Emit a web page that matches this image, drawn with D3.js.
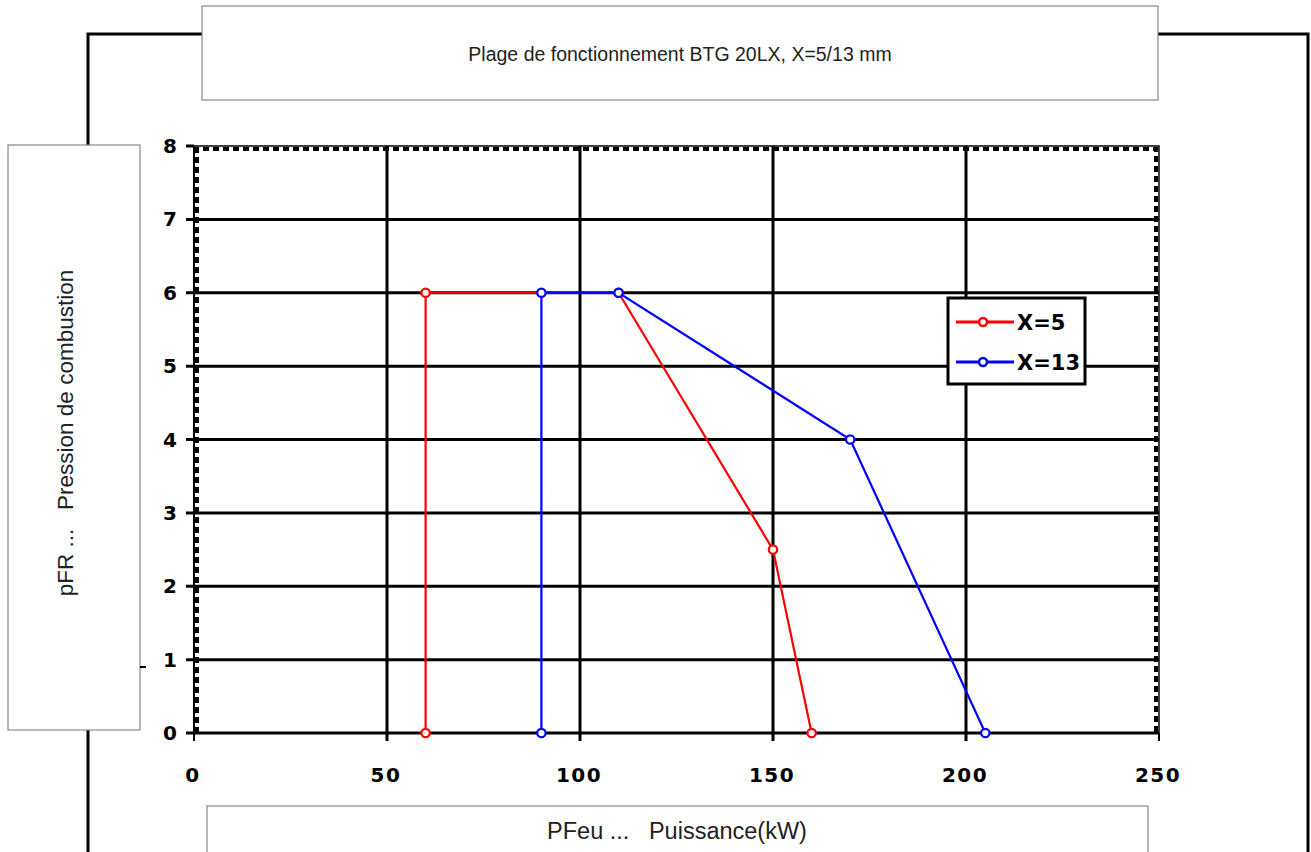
<!DOCTYPE html>
<html><head><meta charset="utf-8">
<script src="https://cdn.jsdelivr.net/npm/d3@7"></script>
<style>body{margin:0;background:#fff;}svg{display:block;}text{white-space:pre;}</style>
</head><body>
<svg id="c" width="1311" height="852"></svg>
<script>
const title = "Plage de fonctionnement BTG 20LX, X=5/13 mm";
const xTitle = "PFeu ...   Puissance(kW)";
const yTitle = "pFR ...   Pression de combustion";
const xTicks = [0, 50, 100, 150, 200, 250];
const yTicks = [0, 1, 2, 3, 4, 5, 6, 7, 8];
const seriesNames = ["X=5", "X=13"];
const seriesColors = ["#ff0000", "#0000ff"];
const x5 = [60, 60, 110, 150, 160];
const y5 = [0, 6, 6, 2.5, 0];
const x13 = [90, 90, 110, 170, 205];
const y13 = [0, 6, 6, 4, 0];

const svg = d3.select("#c");
const L = 194, R = 1159, T = 146, B = 733;
const x = d3.scaleLinear().domain([0, 250]).range([L, R]);
const y = d3.scaleLinear().domain([0, 8]).range([B, T]);
const ff = "Liberation Sans, Arial, sans-serif";

// outer frame
svg.append("path").attr("d", `M88,852 V34 H1308 V852`).attr("fill","none").attr("stroke","#000").attr("stroke-width",3);

// title box
svg.append("rect").attr("x",202).attr("y",6).attr("width",956).attr("height",94).attr("fill","#fff").attr("stroke","#888").attr("stroke-width",1.2);
svg.append("text").attr("x",680).attr("y",61).attr("text-anchor","middle").attr("font-family",ff).attr("font-size",19.5).attr("fill","#222").text(title);

// y-title box
svg.append("rect").attr("x",8).attr("y",145).attr("width",132).attr("height",585).attr("fill","#fff").attr("stroke","#888").attr("stroke-width",1.2);
svg.append("text").attr("transform","translate(73,433) rotate(-90)").attr("text-anchor","middle").attr("font-family",ff).attr("font-size",22.5).attr("fill","#222").text(yTitle);
svg.append("line").attr("x1",140).attr("x2",146).attr("y1",667).attr("y2",667).attr("stroke","#000").attr("stroke-width",2);

// x-title box
svg.append("rect").attr("x",207).attr("y",806).attr("width",941).attr("height",60).attr("fill","#fff").attr("stroke","#888").attr("stroke-width",1.2);
svg.append("text").attr("x",677).attr("y",839).attr("text-anchor","middle").attr("font-family",ff).attr("font-size",23.5).attr("fill","#222").text(xTitle);

// dotted plot border (top, left, right)
const g = svg.append("g");
g.append("path").attr("d",`M${L},${T} H${R} V${B}`).attr("fill","none").attr("stroke","#000").attr("stroke-width",1.5);
g.append("path").attr("d",`M${L+3},${B} V${T+3} H${R-3} V${B}`).attr("fill","none").attr("stroke","#000").attr("stroke-width",4).attr("stroke-dasharray","6,4");

// gridlines
g.selectAll(".hg").data(yTicks.filter(d=>d<8)).join("line")
  .attr("x1",L-8).attr("x2",R).attr("y1",d=>y(d)).attr("y2",d=>y(d))
  .attr("stroke","#000").attr("stroke-width",3);
g.append("line").attr("x1",L-8).attr("x2",L).attr("y1",y(8)).attr("y2",y(8)).attr("stroke","#000").attr("stroke-width",3);
g.selectAll(".vg").data(xTicks.filter(d=>d>0 && d<250)).join("line")
  .attr("x1",d=>x(d)).attr("x2",d=>x(d)).attr("y1",T).attr("y2",B+8)
  .attr("stroke","#000").attr("stroke-width",3);
g.append("line").attr("x1",L).attr("x2",L).attr("y1",T).attr("y2",B+8).attr("stroke","#000").attr("stroke-width",2);
g.append("line").attr("x1",R).attr("x2",R).attr("y1",B).attr("y2",B+8).attr("stroke","#000").attr("stroke-width",2);

// tick labels
const tf = "DejaVu Sans, sans-serif";
g.selectAll(".yl").data(yTicks).join("text")
  .attr("x",L-17).attr("y",d=>y(d)+7).attr("text-anchor","end")
  .attr("font-family",tf).attr("font-weight","bold").attr("font-size",20).attr("fill","#000")
  .text(d=>d);
g.selectAll(".xl").data(xTicks).join("text")
  .attr("x",d=>x(d)-1).attr("y",782).attr("text-anchor","middle")
  .attr("font-family",tf).attr("font-weight","bold").attr("font-size",20).attr("letter-spacing",1.5).attr("fill","#000")
  .text(d=>d);

// series
const series = [
  {name: seriesNames[0], color: seriesColors[0], pts: x5.map((v,i)=>[v,y5[i]])},
  {name: seriesNames[1], color: seriesColors[1], pts: x13.map((v,i)=>[v,y13[i]])}
];
const line = d3.line().x(d=>x(d[0])).y(d=>y(d[1]));
series.forEach(s=>{
  g.append("path").attr("d",line(s.pts)).attr("fill","none").attr("stroke",s.color).attr("stroke-width",2.2);
  g.selectAll(null).data(s.pts).join("circle")
    .attr("cx",d=>x(d[0])).attr("cy",d=>y(d[1])).attr("r",4.2)
    .attr("fill","#fff").attr("stroke",s.color).attr("stroke-width",2.2);
});

// legend
const lg = svg.append("g");
lg.append("rect").attr("x",948).attr("y",298).attr("width",137).attr("height",86).attr("fill","#fff").attr("stroke","#000").attr("stroke-width",3);
series.forEach((s,i)=>{
  const yy = 322 + i*40;
  lg.append("line").attr("x1",956).attr("x2",1014).attr("y1",yy).attr("y2",yy).attr("stroke",s.color).attr("stroke-width",3);
  lg.append("circle").attr("cx",983).attr("cy",yy).attr("r",4).attr("fill","#fff").attr("stroke",s.color).attr("stroke-width",2.5);
  lg.append("text").attr("x",1017).attr("y",yy+8).attr("font-family",tf).attr("font-weight","bold").attr("font-size",21).attr("fill","#000").text(s.name);
});
</script>
</body></html>
